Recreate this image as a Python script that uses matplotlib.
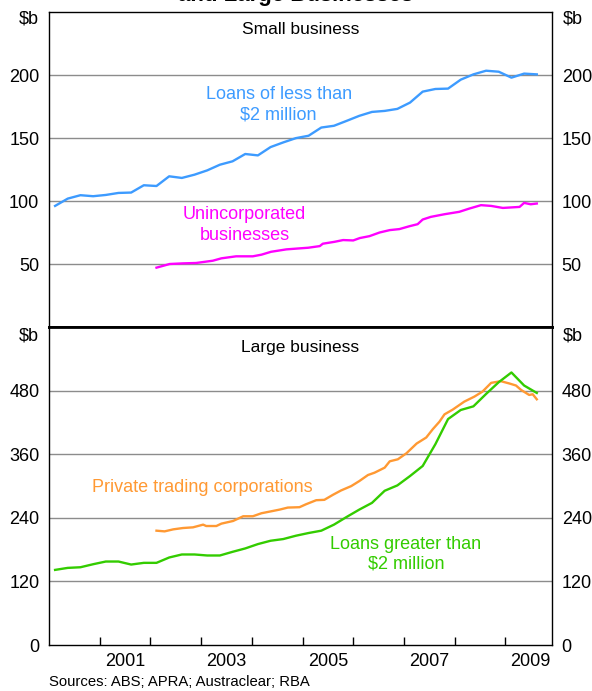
import matplotlib
matplotlib.use("Agg")
import matplotlib.pyplot as plt

plt.rcParams['font.family'] = ['Liberation Sans', 'DejaVu Sans']

# ---------------- data ----------------
quarter_dates = [2000.12, 2000.37, 2000.62, 2000.87, 2001.12, 2001.37, 2001.62, 2001.87,
                 2002.12, 2002.37, 2002.62, 2002.87, 2003.12, 2003.37, 2003.62, 2003.87,
                 2004.12, 2004.37, 2004.62, 2004.87, 2005.12, 2005.37, 2005.62, 2005.87,
                 2006.12, 2006.37, 2006.62, 2006.87, 2007.12, 2007.37, 2007.62, 2007.87,
                 2008.12, 2008.37, 2008.62, 2008.87, 2009.12, 2009.37, 2009.62]

loans_small = [96.1, 101.9, 104.6, 103.8, 104.8, 106.4, 106.7, 112.5,
               111.9, 119.6, 118.3, 120.9, 124.3, 128.8, 131.5, 137.3,
               136.2, 142.8, 146.5, 149.9, 151.8, 158.3, 159.7, 163.6,
               167.6, 170.7, 171.5, 173.1, 178.1, 186.8, 188.9, 189.2,
               196.3, 200.5, 203.4, 202.6, 197.9, 201.1, 200.5]

loans_large = [141.7, 145.5, 146.7, 152.4, 157.5, 157.5, 151.8, 155.0,
               155.0, 165.1, 170.8, 170.8, 168.9, 168.9, 175.8, 182.2,
               190.4, 196.7, 199.9, 206.2, 211.3, 215.7, 227.1, 241.6,
               255.5, 268.2, 291.0, 301.1, 318.8, 337.8, 378.9, 426.3,
               443.4, 450.3, 473.7, 495.9, 514.2, 489.6, 475.6]

unincorp_dates = [2002.12, 2002.38, 2002.64, 2002.90, 2003.23, 2003.40, 2003.69, 2004.02,
                  2004.19, 2004.38, 2004.68, 2004.94, 2005.11, 2005.34, 2005.40, 2005.63,
                  2005.80, 2006.00, 2006.13, 2006.32, 2006.52, 2006.72, 2006.91, 2007.11,
                  2007.27, 2007.37, 2007.53, 2007.80, 2008.09, 2008.29, 2008.52, 2008.72,
                  2008.95, 2009.28, 2009.37, 2009.50, 2009.62]
unincorp = [47.1, 50.0, 50.5, 50.8, 52.6, 54.5, 56.1, 56.1,
            57.4, 59.7, 61.6, 62.4, 62.9, 64.2, 66.1, 67.6,
            69.0, 68.7, 70.6, 72.1, 75.0, 76.9, 77.7, 80.0,
            81.6, 85.3, 87.4, 89.5, 91.4, 94.0, 96.7, 96.1,
            94.5, 95.3, 98.5, 97.4, 98.0]

ptc_dates = [2002.12, 2002.28, 2002.45, 2002.64, 2002.84, 2003.04, 2003.10, 2003.30,
             2003.40, 2003.63, 2003.83, 2004.02, 2004.19, 2004.42, 2004.55, 2004.71,
             2004.94, 2005.07, 2005.27, 2005.43, 2005.60, 2005.76, 2005.96, 2006.12,
             2006.29, 2006.42, 2006.62, 2006.72, 2006.88, 2007.05, 2007.25, 2007.44,
             2007.57, 2007.70, 2007.80, 2007.96, 2008.19, 2008.39, 2008.55, 2008.72,
             2008.91, 2009.08, 2009.21, 2009.31, 2009.47, 2009.54, 2009.62]
ptc = [215.7, 214.4, 218.2, 220.7, 222.0, 227.1, 224.5, 224.5,
       229.0, 234.0, 242.9, 242.9, 248.6, 253.0, 255.5, 259.3,
       260.0, 265.6, 273.2, 273.9, 283.4, 291.6, 299.8, 309.3,
       320.7, 325.1, 334.6, 346.6, 350.4, 361.8, 380.1, 391.5,
       407.3, 421.3, 435.2, 444.0, 459.2, 468.7, 478.2, 494.6,
       497.8, 493.4, 489.6, 481.3, 471.8, 473.1, 463.6]

top_yticks = [50, 100, 150, 200]
bottom_yticks = [0, 120, 240, 360, 480]
year_ticks = [2001, 2002, 2003, 2004, 2005, 2006, 2007, 2008, 2009]
year_labels = ['2001', '2003', '2005', '2007', '2009']
year_label_pos = [2001.5, 2003.5, 2005.5, 2007.5, 2009.5]

# ---------------- figure ----------------
W, H = 592, 691
fig = plt.figure(figsize=(W / 100, H / 100), dpi=100)

def frac(x0, y0, x1, y1):
    return [x0 / W, 1 - y1 / H, (x1 - x0) / W, (y1 - y0) / H]

ax1 = fig.add_axes(frac(49, 12, 552, 327))
ax2 = fig.add_axes(frac(49, 327, 552, 645))

BLUE = '#3d9bff'
MAGENTA = '#ff00ff'
GREEN = '#33cc00'
ORANGE = '#ff9933'
GRID = '#8c8c8c'
FS = 13
FS_T = 12.5

xlim = (2000.0, 2009.92)

for ax, ylim, yt in [(ax1, (0, 250), top_yticks), (ax2, (0, 600), bottom_yticks)]:
    ax.set_xlim(*xlim)
    ax.set_ylim(*ylim)
    ax.set_yticks(yt)
    ax.set_yticklabels([str(v) for v in yt], fontsize=FS)
    ax.tick_params(axis='y', length=0, pad=7, labelleft=True, labelright=True)
    for v in yt:
        if v != 0:
            ax.axhline(v, color=GRID, lw=1.0, zorder=1)
    for s in ax.spines.values():
        s.set_linewidth(1.0)
        s.set_color('black')

# top panel
ax1.set_xticks([])
ax1.spines['bottom'].set_linewidth(2.0)
ax1.plot(quarter_dates, loans_small, color=BLUE, lw=1.7, zorder=3)
ax1.plot(unincorp_dates, unincorp, color=MAGENTA, lw=1.7, zorder=3)
ax1.text(0.5, 0.943, 'Small business', transform=ax1.transAxes, ha='center', va='center', fontsize=FS_T)
ax1.text(2004.53, 176.5, 'Loans of less than\n$2 million', color=BLUE, ha='center', va='center',
         fontsize=FS, linespacing=1.25)
ax1.text(2003.86, 81, 'Unincorporated\nbusinesses', color=MAGENTA, ha='center', va='center',
         fontsize=FS, linespacing=1.25)

# bottom panel
ax2.spines['top'].set_linewidth(2.0)
ax2.plot(ptc_dates, ptc, color=ORANGE, lw=1.7, zorder=3)
ax2.plot(quarter_dates, loans_large, color=GREEN, lw=1.7, zorder=4)
ax2.text(0.5, 0.936, 'Large business', transform=ax2.transAxes, ha='center', va='center', fontsize=FS_T)
ax2.text(2003.02, 298, 'Private trading corporations', color=ORANGE, ha='center', va='center',
         fontsize=FS)
ax2.text(2007.04, 171, 'Loans greater than\n$2 million', color=GREEN, ha='center', va='center',
         fontsize=FS, linespacing=1.25)

ax2.set_xticks(year_ticks)
ax2.set_xticklabels([])
ax2.tick_params(axis='x', which='major', direction='in', length=6, width=1.0, color='black')
ax2.set_xticks(year_label_pos, minor=True)
ax2.set_xticklabels(year_labels, minor=True, fontsize=FS)
ax2.tick_params(axis='x', which='minor', length=0, pad=6)

# unit labels
for ypx in (19, 336):
    fig.text(29 / W, 1 - ypx / H, '$b', ha='center', va='center', fontsize=FS)
    fig.text(573 / W, 1 - ypx / H, '$b', ha='center', va='center', fontsize=FS)

# partially cut title (only its lower edge is visible in the original)
fig.text(0.5, 1 - 0.5 / H, 'and Large Businesses', ha='center', va='baseline',
         fontsize=16, fontweight='bold')

fig.text(49 / W, 1 - 682 / H, 'Sources: ABS; APRA; Austraclear; RBA', ha='left', va='center',
         fontsize=10.7)

fig.savefig('out.png', dpi=100)
